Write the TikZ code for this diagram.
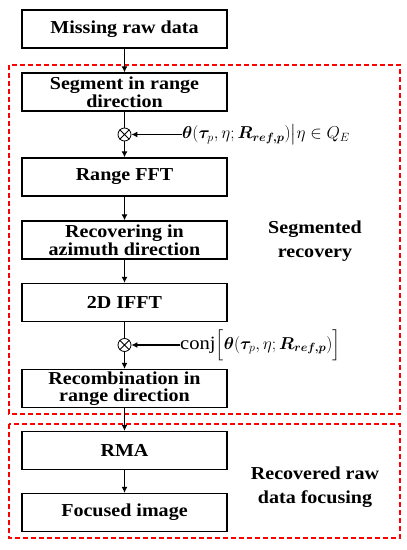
\documentclass[tikz,border=0pt]{standalone}
\usepackage{amsmath,bm}
\usepackage{fontspec}
\setmainfont[FakeStretch=1.1]{Liberation Serif}
\usetikzlibrary{arrows.meta}
\begin{document}
\begin{tikzpicture}[x=1bp,y=-1bp,
  box/.style={draw,line width=1.3bp,minimum width=205bp,minimum height=38bp,inner sep=0pt,align=center,
    font=\fontsize{18.3}{16.7}\selectfont\bfseries},
  mult/.style={draw,circle,line width=0.8bp,minimum size=13bp,inner sep=0pt},
  conn/.style={line width=1.1bp,-{Latex[length=6bp,width=6bp]}},
  grp/.style={draw=red,line width=1.3bp,dash pattern=on 5bp off 3bp},
  grplabel/.style={align=center,font=\fontsize{18.3}{24.5}\selectfont\bfseries},
  mlabel/.style={anchor=west,inner sep=0pt,font=\fontsize{18}{20}\selectfont}]
\useasboundingbox (0,0) rectangle (406,550);
\draw[grp] (9,65) rectangle (400,414);
\draw[grp] (9,424) rectangle (400,538);
\node[box] (n1) at (124.5,29) {Missing raw data};
\node[box] (n2) at (124.5,92) {Segment in range\\direction};
\node[mult] (x1) at (124.5,134.5) {};
\draw[line width=0.8bp] (x1.north west)--(x1.south east) (x1.north east)--(x1.south west);
\node[box] (n3) at (124.5,177) {Range FFT};
\node[box] (n4) at (124.5,240) {Recovering in\\azimuth direction};
\node[box] (n5) at (124.5,302.5) {2D IFFT};
\node[mult] (x2) at (124.5,345) {};
\draw[line width=0.8bp] (x2.north west)--(x2.south east) (x2.north east)--(x2.south west);
\node[box] (n6) at (124.5,388.5) {Recombination in\\range direction};
\node[box] (n7) at (124.5,450.5) {RMA};
\node[box] (n8) at (124.5,512.5) {Focused image};
\node[mlabel] (l1) at (182,134.5) {$\bm{\theta}(\bm{\tau}_p,\eta;\bm{R}_{\bm{ref,p}})\big|\eta\in Q_E$};
\node[mlabel,font=\fontsize{18.8}{20}\selectfont] (l2) at (180,345) {\text{conj}$\Big[\bm{\theta}(\bm{\tau}_p,\eta;\bm{R}_{\bm{ref,p}})\Big]$};
\node[grplabel] (t1) at (315,241) {Segmented\\recovery};
\node[grplabel] (t2) at (315,487) {Recovered raw\\data focusing};
\draw[conn] (n1) -- (n2);
\draw[line width=1.1bp] (n2) -- (x1);
\draw[conn] (x1) -- (n3);
\draw[conn] (l1) -- (x1);
\draw[conn] (n3) -- (n4);
\draw[conn] (n4) -- (n5);
\draw[line width=1.1bp] (n5) -- (x2);
\draw[conn] (x2) -- (n6);
\draw[conn] (l2) -- (x2);
\draw[conn] (n6) -- (n7);
\draw[conn] (n7) -- (n8);
\end{tikzpicture}
\end{document}
